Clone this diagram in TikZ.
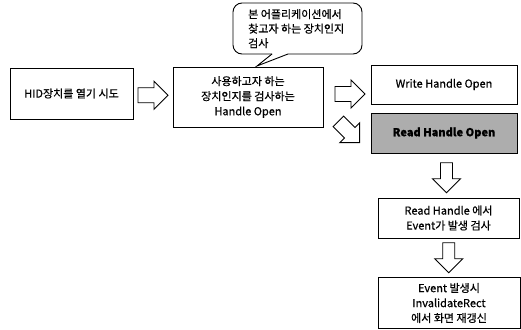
\documentclass[tikz,border=0pt]{standalone}
\usepackage{fontspec}
\setmainfont{Noto Sans CJK KR}[FakeBold=0.6]
\usetikzlibrary{calc}
\tikzset{
  box/.style={draw=black, line width=0.9pt, fill=white, inner sep=0pt, align=center, font=\fontsize{11}{15}\selectfont},
  harrow/.pic={\draw[line width=0.9pt, fill=white, line join=miter] (-15,-7.5) -- (1,-7.5) -- (1,-14) -- (15,0) -- (1,14) -- (1,7.5) -- (-15,7.5) -- cycle;},
  varrow/.pic={\draw[line width=0.9pt, fill=white, line join=miter] (-6,-15) -- (-6,1) -- (-14,1) -- (0,15) -- (14,1) -- (6,1) -- (6,-15) -- cycle;}
}
\begin{document}
\begin{tikzpicture}[x=1pt, y=-1pt]
\useasboundingbox (0,0) rectangle (521,329);
% boxes
\node[box, minimum width=123pt, minimum height=51pt] (hid) at (71.5,93.5) {HID장치를 열기 시도};
\node[box, minimum width=150pt, minimum height=60pt] (ho) at (248,97) {사용하고자 하는\\장치인지를 검사하는\\Handle Open};
\node[box, minimum width=146pt, minimum height=39pt] (wh) at (444,84.5) {Write Handle Open};
\node[box, fill=black!32, minimum width=146pt, minimum height=40pt, font=\fontsize{11}{15}\selectfont\bfseries] (rh) at (444,133) {Read Handle Open};
\node[box, minimum width=141pt, minimum height=40pt] (ev) at (448.5,218) {Read Handle 에서\\Event가 발생 검사};
\node[box, minimum width=142pt, minimum height=51pt] (ir) at (449,303) {Event 발생시\\InvalidateRect\\에서 화면 재갱신};
% callout
\coordinate (tip) at (257,66);
\draw[line width=0.9pt, fill=white, rounded corners=9pt] (272,54) -- (233,54) -- (233,3) -- (362,3) -- (362,54) -- (288,54);
\draw[line width=0.9pt, line join=miter] (272,54) -- (tip) -- (288,54);
\node[anchor=north west, align=left, inner sep=0pt, font=\fontsize{11}{14.5}\selectfont] (cl) at (248,9) {본 어플리케이션에서\\찾고자 하는 장치인지\\검사};
% block arrows
\pic at ($(hid.east)!0.5!(ho.west)$) {harrow};
\pic at (350,94) {harrow};
\pic[rotate=-45] at (349,132) {harrow};
\pic at ($(rh.south)!0.55!(ev.north)$) {varrow};
\pic at ($(ev.south)!0.5!(ir.north)$) {varrow};
\end{tikzpicture}
\end{document}
